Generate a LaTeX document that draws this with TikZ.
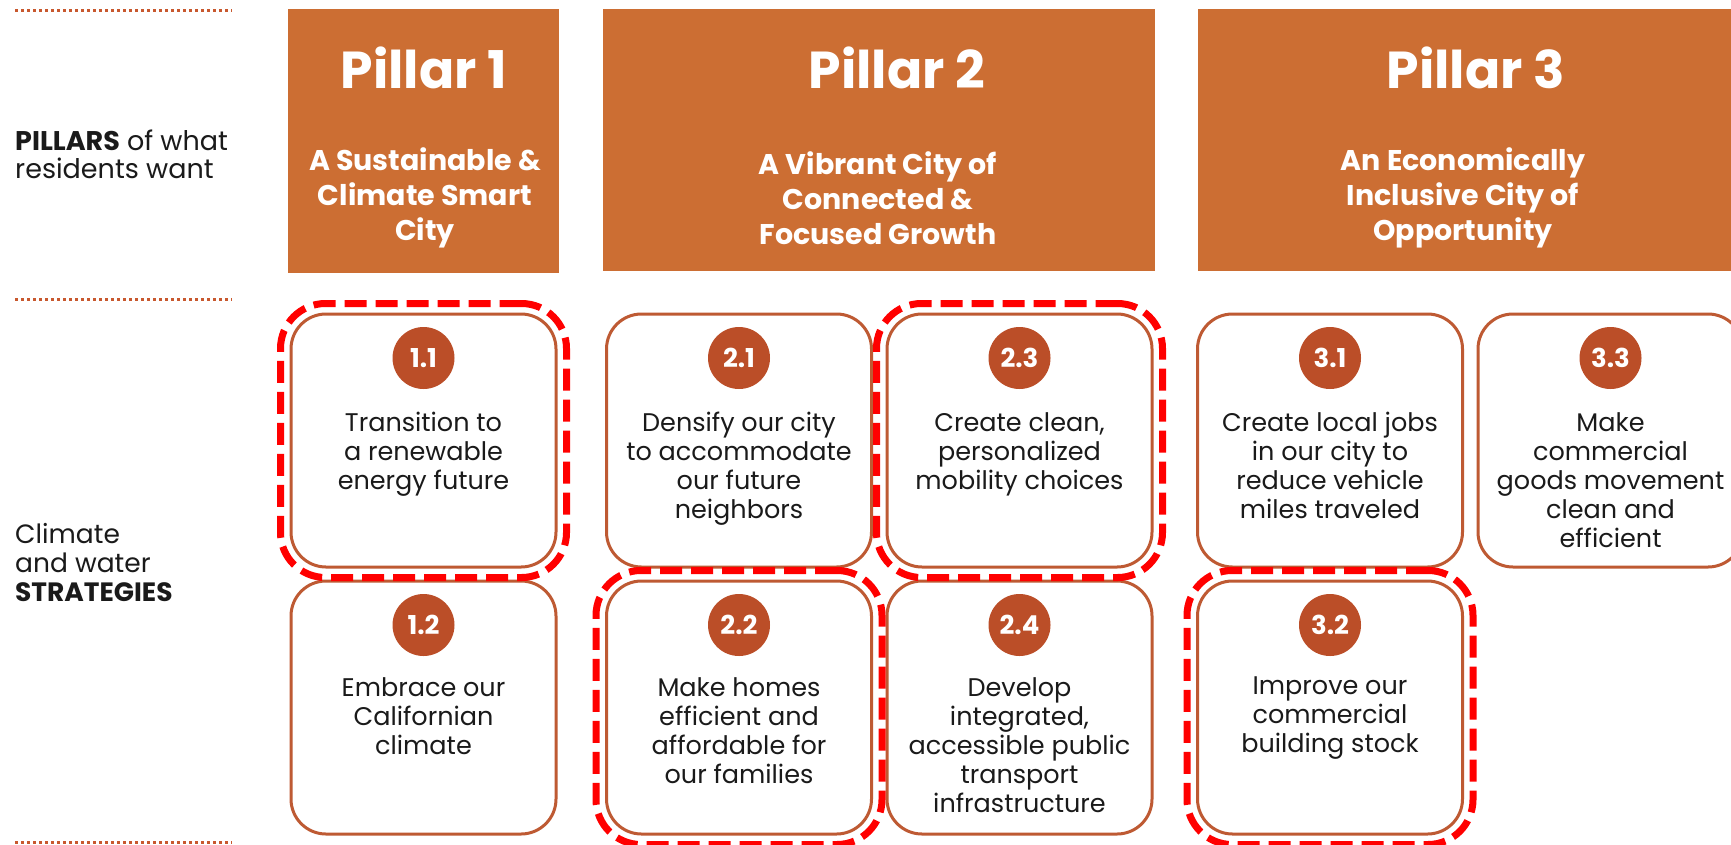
\documentclass[tikz,border=0pt]{standalone}
\usepackage{fontspec}
\setmainfont{Poppins}
\usetikzlibrary{fit}
\definecolor{pillarc}{HTML}{CC6E33}
\definecolor{badgec}{HTML}{BB4E28}
\definecolor{boxc}{HTML}{BE5A33}
\definecolor{hlred}{HTML}{FF0000}
\definecolor{txt}{HTML}{1A1A1A}
\definecolor{dotc}{HTML}{C8582E}
\tikzset{
  pillar/.style={rectangle, fill=pillarc, inner sep=0pt},
  ptitle/.style={text=white, font={\fontsize{52}{56}\selectfont\bfseries}, inner sep=0pt},
  psub/.style={text=white, align=center, font={\fontsize{28.5}{35}\selectfont\bfseries}, inner sep=0pt},
  sbox/.style={rectangle, draw=boxc, line width=3pt, rounded corners=35pt, fill=white,
    minimum width=265pt, minimum height=253pt, inner sep=0pt},
  badge/.style={circle, fill=badgec, minimum size=62pt, inner sep=0pt, text=white,
    font={\fontsize{26}{28}\selectfont\bfseries}},
  stext/.style={text=txt, align=center, font={\fontsize{25.5}{29}\selectfont}, inner sep=0pt},
  hl/.style={draw=hlred, line width=7pt, rounded corners=45pt, dash pattern=on 22pt off 9pt, inner sep=9pt},
  side/.style={text=txt, align=left, inner sep=0pt},
  dotline/.style={draw=dotc, line width=3pt, dash pattern=on 3pt off 3pt}
}
\newcommand\strat[6]{%
  \node[sbox] (#1) at (#2,#3+126.5) {};
  \node[badge] (#1b) at (#2,#3+44) {#4};
  \node[stext, anchor=north] (#1t) at (#2,#3+#6) {#5};
}
\begin{document}
\begin{tikzpicture}[x=1pt,y=-1pt]
\clip (0,0) rectangle (1731,844);
\fill[white] (0,0) rectangle (1731,844);
% dotted separators
\draw[dotline] (15,10) -- (232,10);
\draw[dotline] (15,299) -- (232,299);
\draw[dotline] (15,842) -- (232,842);
% side labels
\node[side, anchor=west, font={\fontsize{27}{28}\selectfont}] (lp) at (15,154) {\textbf{PILLARS} of what\\residents want};
\node[side, anchor=west, font={\fontsize{26.5}{29}\selectfont}] (ls) at (15,562) {Climate\\and water\\\textbf{STRATEGIES}};
% pillars
\node[pillar, minimum width=271pt, minimum height=264pt] (p1) at (423.5,141) {};
\node[pillar, minimum width=552pt, minimum height=262pt] (p2) at (879,140) {};
\node[pillar, minimum width=562pt, minimum height=262pt] (p3) at (1479,140) {};
\node[ptitle] (p1t) at (424,68) {Pillar 1};
\node[ptitle] (p2t) at (897,68) {Pillar 2};
\node[ptitle] (p3t) at (1476,68) {Pillar 3};
\node[psub] (p1s) at (425,198) {A Sustainable \&\\Climate Smart\\City};
\node[psub] (p2s) at (878,198) {A Vibrant City of\\Connected \&\\Focused Growth};
\node[psub] (p3s) at (1463,198) {An Economically\\Inclusive City of\\Opportunity};
% strategies
\strat{s11}{423.5}{314}{1.1}{Transition to\\a renewable\\energy future}{98}
\strat{s12}{423.5}{581}{1.2}{Embrace our\\Californian\\climate}{96}
\strat{s21}{739}{314}{2.1}{Densify our city\\to accommodate\\our future\\neighbors}{98}
\strat{s22}{739}{581}{2.2}{Make homes\\efficient and\\affordable for\\our families}{96}
\strat{s23}{1019.5}{314}{2.3}{Create clean,\\personalized\\mobility choices}{98}
\strat{s24}{1019.5}{581}{2.4}{Develop\\integrated,\\accessible public\\transport\\infrastructure}{96}
\strat{s31}{1330}{314}{3.1}{Create local jobs\\in our city to\\reduce vehicle\\miles traveled}{98}
\strat{s32}{1330}{581}{3.2}{Improve our\\commercial\\building stock}{96}
\strat{s33}{1610.5}{314}{3.3}{Make\\commercial\\goods movement\\clean and\\efficient}{98}
% highlights
\node[hl, fit=(s11)] (h11) {};
\node[hl, fit=(s23)] (h23) {};
\node[hl, fit=(s22)] (h22) {};
\node[hl, fit=(s32)] (h32) {};
\end{tikzpicture}
\end{document}
